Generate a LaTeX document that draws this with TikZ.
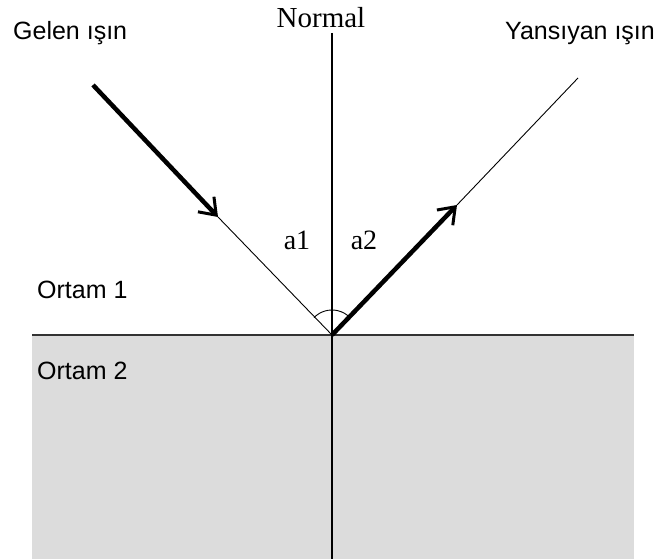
\documentclass[tikz,border=0pt]{standalone}
\usepackage{fontspec}
\setmainfont{Liberation Sans}
\newfontfamily\serifnorm{Liberation Serif}
\usetikzlibrary{arrows.meta, calc}
\definecolor{ortamgray}{HTML}{DCDCDC}
\definecolor{sinirgray}{HTML}{333333}

\begin{document}
\begin{tikzpicture}[
      x=1pt, y=1pt,
      every node/.style={inner sep=0pt},
      lbl/.style={anchor=base west, font=\fontsize{25}{30}\selectfont},
      ang/.style={anchor=base, font=\serifnorm\fontsize{28}{30}\selectfont},
      thin/.style={line width=0.9pt},
      ray/.style={line width=4.5pt, -{Straight Barb[length=15pt, width=22pt, line width=3pt]}},
    ]
    \useasboundingbox (0,0) rectangle (662,559);

    % Ortam 2
    \fill[ortamgray] (32,0) rectangle (634,224);
    \coordinate (sl) at (32,224);
    \coordinate (sr) at (634,224);
    \draw[sinirgray, line width=2.5pt] (sl) -- (sr);

    \coordinate (o) at (332,224);
    \coordinate (nt) at (332,526);
    \coordinate (nb) at (332,0);
    \draw[line width=1.3pt] (nt) -- (nb);

    \coordinate (gs) at (93,474);
    \coordinate (gt) at (218,342);
    \coordinate (yt) at (457,354);
    \coordinate (ye) at (578,481);

    \draw[thin] (gt) -- (o);
    \draw[ray] (gs) -- (gt);
    \draw[ray] (o) -- (yt);
    \draw[thin] (yt) -- (ye);

    \draw[thin] ($(o)+(136:25)$) arc[start angle=136, end angle=44, radius=25];

    \node[lbl] (gelen) at (13,519) {Gelen ışın};
    \node[lbl] (yans) at (505,519) {Yansıyan ışın};
    \node[ang, font=\serifnorm\fontsize{29}{30}\selectfont] (norm) at (321,531) {Normal};
    \node[lbl] (or1) at (37,260) {Ortam 1};
    \node[lbl] (or2) at (37,179) {Ortam 2};
    \node[ang] (a1) at (297,309) {a1};
    \node[ang] (a2) at (364,309) {a2};
  \end{tikzpicture}
\end{document}
